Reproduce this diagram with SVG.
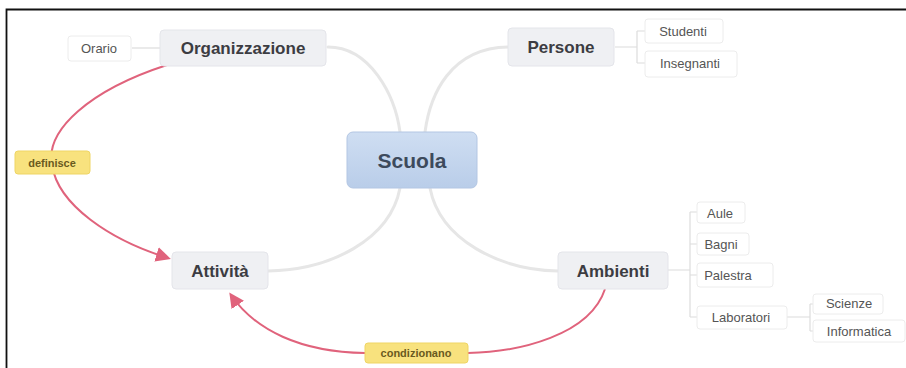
<svg xmlns="http://www.w3.org/2000/svg" width="906" height="368" viewBox="0 0 906 368">
<defs>
<linearGradient id="gScuola" x1="0" y1="0" x2="0" y2="1">
<stop offset="0" stop-color="#cfdef2"/>
<stop offset="1" stop-color="#b9cde9"/>
</linearGradient>
<marker id="arr" viewBox="0 0 10 10" refX="8" refY="5" markerWidth="7.5" markerHeight="7.5" orient="auto" markerUnits="strokeWidth">
<path d="M0,0 L10,5 L0,10 z" fill="#e0637c"/>
</marker>
<style>
.main{fill:#eff0f3;stroke:#e4e5ea;stroke-width:1}
.child{fill:#ffffff;stroke:#ececec;stroke-width:1}
.lbl{fill:#f8e27e;stroke:#efd565;stroke-width:1}
.tmain{font-family:"Liberation Sans",Arial,sans-serif;font-weight:bold;font-size:17px;fill:#3c3c42;text-anchor:middle;dominant-baseline:central}
.tchild{font-family:"Liberation Sans",Arial,sans-serif;font-size:13px;fill:#555;text-anchor:middle;dominant-baseline:central}
.tlbl{font-family:"Liberation Sans",Arial,sans-serif;font-weight:bold;font-size:11px;fill:#6a5a20;text-anchor:middle;dominant-baseline:central}
.branch{fill:none;stroke:#e6e6e6;stroke-width:3;stroke-linecap:round}
.tree{fill:none;stroke:#dcdcdc;stroke-width:1.2}
.rel{fill:none;stroke:#e0637c;stroke-width:2}
</style>
</defs>
<rect x="0" y="0" width="906" height="368" fill="#ffffff"/>
<path d="M6.5,368 V9.5 H906" fill="none" stroke="#111" stroke-width="1.8"/>

<g id="connectors">
<path class="branch" d="M328,47 C370,47 395,95 400,132"/>
<path class="branch" d="M425,132 C430,95 450,48 508,47"/>
<path class="branch" d="M400,188 C390,240 330,270 268,271"/>
<path class="branch" d="M430,188 C440,240 500,270 558,271"/>
<path class="tree" d="M132,48 H160"/>
<path class="tree" d="M615,47 H637 M637,31 V63 M637,31 H645 M637,63 H645"/>
<path class="tree" d="M668,270 H690 M690,212 V317 M690,212 H697 M690,244 H697 M690,275 H697 M690,317 H697"/>
<path class="tree" d="M787,317 H810 M810,304 V331 M810,304 H813 M810,331 H813"/>
<path class="rel" d="M167,65 C90,90 45,130 52,165 C58,205 110,240 168,258" marker-end="url(#arr)"/>
<path class="rel" d="M605,289 C590,335 520,352 468,353 L365,353 C300,352 255,330 231,295" marker-end="url(#arr)"/>
</g>

<g id="scuola">
<rect x="347" y="132" width="130" height="56" rx="6" fill="url(#gScuola)" stroke="#b3c6e3"/>
<text class="tmain" x="412" y="160" style="font-size:21px;fill:#3d4a5c">Scuola</text>
</g>
<g id="organizzazione">
<rect class="main" x="160" y="30" width="166" height="36" rx="4"/>
<text class="tmain" x="243" y="48">Organizzazione</text>
</g>
<g id="orario">
<rect class="child" x="68" y="36" width="63" height="25" rx="3"/>
<text class="tchild" x="99" y="48">Orario</text>
</g>
<g id="persone">
<rect class="main" x="508" y="28" width="106" height="38" rx="4"/>
<text class="tmain" x="561" y="47">Persone</text>
</g>
<g id="studenti">
<rect class="child" x="645" y="19" width="78" height="24" rx="3"/>
<text class="tchild" x="683" y="31">Studenti</text>
</g>
<g id="insegnanti">
<rect class="child" x="645" y="51" width="92" height="26" rx="3"/>
<text class="tchild" x="690" y="63">Insegnanti</text>
</g>
<g id="attivita">
<rect class="main" x="172" y="252" width="96" height="37" rx="4"/>
<text class="tmain" x="220" y="271">Attività</text>
</g>
<g id="ambienti">
<rect class="main" x="558" y="252" width="110" height="37" rx="4"/>
<text class="tmain" x="613" y="271">Ambienti</text>
</g>
<g id="aule">
<rect class="child" x="697" y="202" width="48" height="21" rx="3"/>
<text class="tchild" x="720" y="213">Aule</text>
</g>
<g id="bagni">
<rect class="child" x="697" y="233" width="52" height="22" rx="3"/>
<text class="tchild" x="721" y="244">Bagni</text>
</g>
<g id="palestra">
<rect class="child" x="697" y="263" width="76" height="24" rx="3"/>
<text class="tchild" x="728" y="275">Palestra</text>
</g>
<g id="laboratori">
<rect class="child" x="697" y="306" width="90" height="23" rx="3"/>
<text class="tchild" x="741" y="317">Laboratori</text>
</g>
<g id="scienze">
<rect class="child" x="813" y="294" width="70" height="20" rx="3"/>
<text class="tchild" x="849" y="303">Scienze</text>
</g>
<g id="informatica">
<rect class="child" x="813" y="320" width="92" height="22" rx="3"/>
<text class="tchild" x="859" y="331">Informatica</text>
</g>
<g id="label-definisce">
<rect class="lbl" x="15" y="151" width="75" height="23" rx="3"/>
<text class="tlbl" x="52" y="162.5">definisce</text>
</g>
<g id="label-condizionano">
<rect class="lbl" x="365" y="343" width="103" height="20" rx="3"/>
<text class="tlbl" x="416" y="353">condizionano</text>
</g>
</svg>
